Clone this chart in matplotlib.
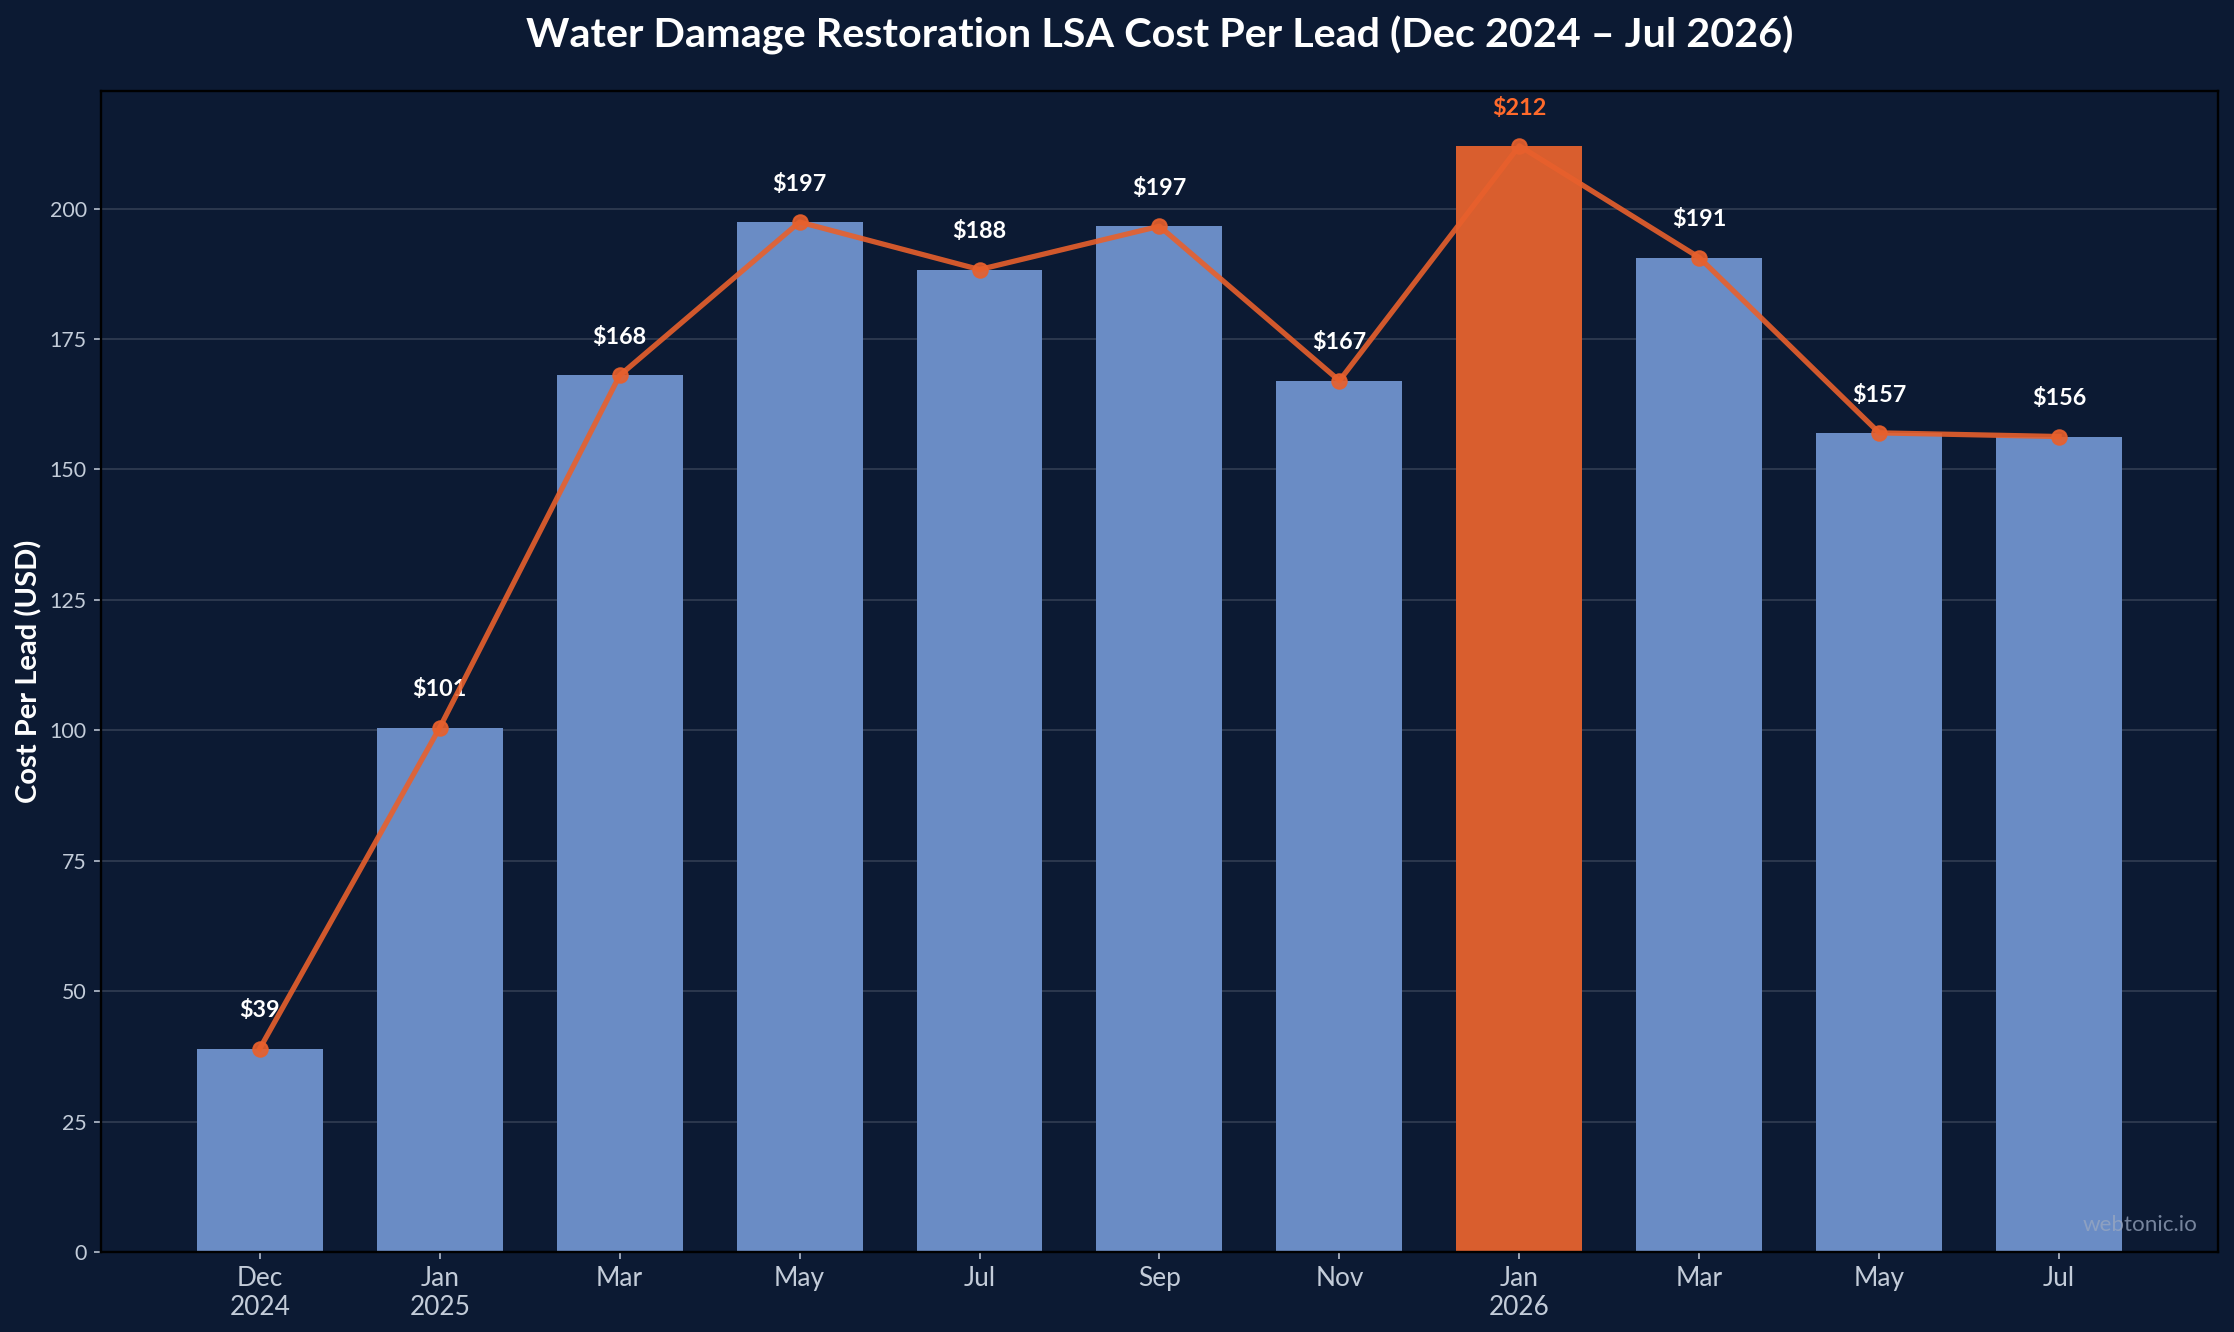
import matplotlib
matplotlib.use("Agg")
import matplotlib.pyplot as plt
import numpy as np

# data
months = ["Dec\n2024", "Jan\n2025", "Mar", "May", "Jul", "Sep", "Nov", "Jan\n2026", "Mar", "May", "Jul"]
cpl = [39, 100.5, 168, 197.4, 188.3, 196.6, 167, 212, 190.6, 157, 156.3]
labels = ["$39", "$101", "$168", "$197", "$188", "$197", "$167", "$212", "$191", "$157", "$156"]
peak_idx = 7

bg = "#0c1a33"
bar_col = "#6a8cc5"
hi_col = "#d95e2e"
line_col = "#e8602c"
tick_col = "#c3ccd9"

plt.rcParams['font.family'] = ['Lato', 'DejaVu Sans']

fig = plt.figure(figsize=(2234 / 140, 1332 / 140), dpi=140, facecolor=bg)
ax = fig.add_axes([0.045, 0.06, 0.948, 0.872])
ax.set_facecolor(bg)

x = np.arange(len(months))
colors = [hi_col if i == peak_idx else bar_col for i in range(len(cpl))]
ax.bar(x, cpl, width=0.7, color=colors, zorder=2)
ax.plot(x, cpl, color=line_col, lw=2.7, marker="o", markersize=7.5, alpha=0.9, zorder=4)

# value labels sit under the line
for i, (v, lab) in enumerate(zip(cpl, labels)):
    c = "#ff6a2b" if i == peak_idx else "white"
    ax.annotate(lab, (i, v), xytext=(0, 14), textcoords="offset points",
                ha="center", va="bottom", fontsize=12, fontweight="bold", color=c, zorder=3)

ax.set_ylim(0, max(cpl) * 1.05)
ax.set_xticks(x)
ax.set_xticklabels(months, fontsize=13.5, color=tick_col)
ax.set_yticks(np.arange(0, 201, 25))
ax.tick_params(axis="y", labelsize=11, colors=tick_col)
ax.tick_params(axis="x", colors=tick_col)
ax.yaxis.grid(True, color="white", alpha=0.15, lw=0.9, zorder=0)
ax.set_axisbelow(True)
for s in ax.spines.values():
    s.set_color("black")
    s.set_linewidth(1.2)

ax.set_ylabel("Cost Per Lead (USD)", fontsize=15, fontweight="bold", color="white")
ax.set_title("Water Damage Restoration LSA Cost Per Lead (Dec 2024 \u2013 Jul 2026)",
             fontsize=21.3, fontweight="bold", color="white", pad=22)

ax.text(0.99, 0.015, "webtonic.io", transform=ax.transAxes, ha="right", va="bottom",
        fontsize=11.5, color="#9aa8c0", alpha=0.75, zorder=5)

fig.savefig("out.png", dpi=140, facecolor=bg)
